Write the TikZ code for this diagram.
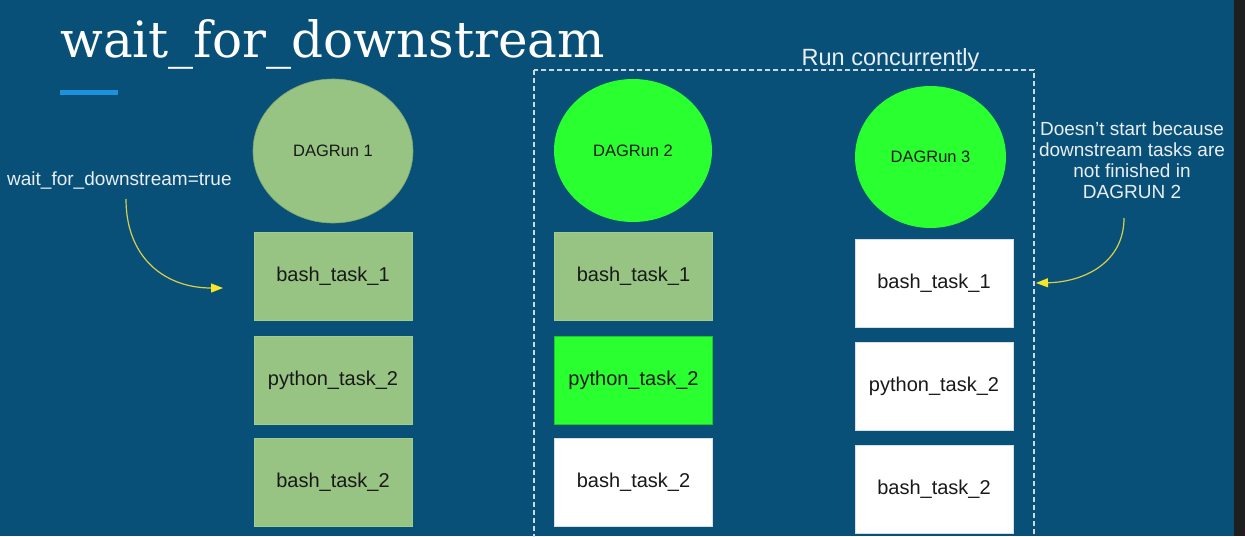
\documentclass[tikz,border=0pt]{standalone}
\usepackage{fontspec}
\setmainfont{Liberation Sans}
\newfontfamily\titlefont{DejaVu Serif}
\usetikzlibrary{shapes.geometric,arrows.meta}
\definecolor{bg}{RGB}{9,80,120}
\definecolor{lgreen}{RGB}{151,196,131}
\definecolor{lgreenedge}{RGB}{160,205,140}
\definecolor{bgreen}{RGB}{42,255,48}
\definecolor{bgreenedge}{RGB}{30,200,40}
\definecolor{boxtext}{RGB}{25,25,25}
\definecolor{labeltext}{RGB}{232,238,242}
\definecolor{dashcol}{RGB}{205,216,226}
\definecolor{arrowline}{RGB}{214,208,72}
\definecolor{arrowhead}{RGB}{245,232,40}
\definecolor{accent}{RGB}{30,144,220}
\definecolor{strip}{RGB}{30,30,30}
\definecolor{whiteedge}{RGB}{215,222,228}
\tikzset{
  run/.style={ellipse, inner sep=0pt, font=\fontsize{16.5}{19}\selectfont, text=boxtext},
  taskbox/.style={rectangle, minimum width=158pt, minimum height=88pt, inner sep=0pt,
    font=\fontsize{20}{24}\selectfont, text=boxtext, line width=0.8pt},
  donebox/.style={taskbox, fill=lgreen, draw=lgreenedge},
  runningbox/.style={taskbox, fill=bgreen, draw=bgreenedge},
  idlebox/.style={taskbox, fill=white, draw=whiteedge},
  label/.style={text=labeltext, inner sep=0pt},
  note/.style={draw=arrowline, line width=1.2pt, -{Triangle[length=12pt,width=9pt,fill=arrowhead,color=arrowhead]}},
  concurrent/.style={draw=dashcol, line width=1.3pt, dash pattern=on 5pt off 3pt}
}
\begin{document}
\begin{tikzpicture}[x=1pt,y=-1pt]
\clip (0,0) rectangle (1245,536);
\fill[bg] (0,0) rectangle (1245,536);
\fill[strip] (1234,0) rectangle (1245,536);

% title
\node[anchor=base west, font=\titlefont\fontsize{50}{56}\selectfont, text=white, inner sep=0pt] (title) at (60,57) {wait\_for\_downstream};
\fill[accent] (60,90) rectangle (118,95);

% concurrency frame
\draw[concurrent] (534,70) rectangle (1034,560);
\node[label, anchor=base, font=\fontsize{23.5}{28}\selectfont] (conc) at (890.5,65) {Run concurrently};

% DAG runs
\node[run, fill=lgreen, draw=lgreen!85!black, line width=0.6pt, minimum width=160pt, minimum height=144pt] (r1) at (333,151) {DAGRun 1};
\node[run, fill=bgreen, minimum width=158pt, minimum height=143pt] (r2) at (633,150.5) {DAGRun 2};
\node[run, fill=bgreen, minimum width=151pt, minimum height=142pt] (r3) at (930.5,157) {DAGRun 3};

% tasks run 1
\node[donebox] (a1) at (333,276) {bash\_task\_1};
\node[donebox] (a2) at (333,380) {python\_task\_2};
\node[donebox] (a3) at (333,482) {bash\_task\_2};

% tasks run 2
\node[donebox] (b1) at (633.5,276) {bash\_task\_1};
\node[runningbox] (b2) at (633.5,380) {python\_task\_2};
\node[idlebox] (b3) at (633.5,482.5) {bash\_task\_2};

% tasks run 3
\node[idlebox] (c1) at (934,283) {bash\_task\_1};
\node[idlebox] (c2) at (934,386.5) {python\_task\_2};
\node[idlebox] (c3) at (934,489.5) {bash\_task\_2};

% left note
\node[label, anchor=base west, font=\fontsize{19}{22}\selectfont] (wlabel) at (7,185) {wait\_for\_downstream=true};
\coordinate (w1) at (126,199);
\coordinate (w2) at (223,288);
\draw[note] (w1) .. controls (126,258) and (165,288) .. (w2);

% right note
\node[label, anchor=north, align=center, font=\fontsize{19}{21}\selectfont] (dlabel) at (1132,122) {Doesn’t start because\\downstream tasks are\\not finished in\\DAGRUN 2};
\coordinate (d1) at (1124,218);
\coordinate (d2) at (1036,283);
\draw[note] (d1) .. controls (1124,262) and (1085,282) .. (d2);
\end{tikzpicture}
\end{document}
